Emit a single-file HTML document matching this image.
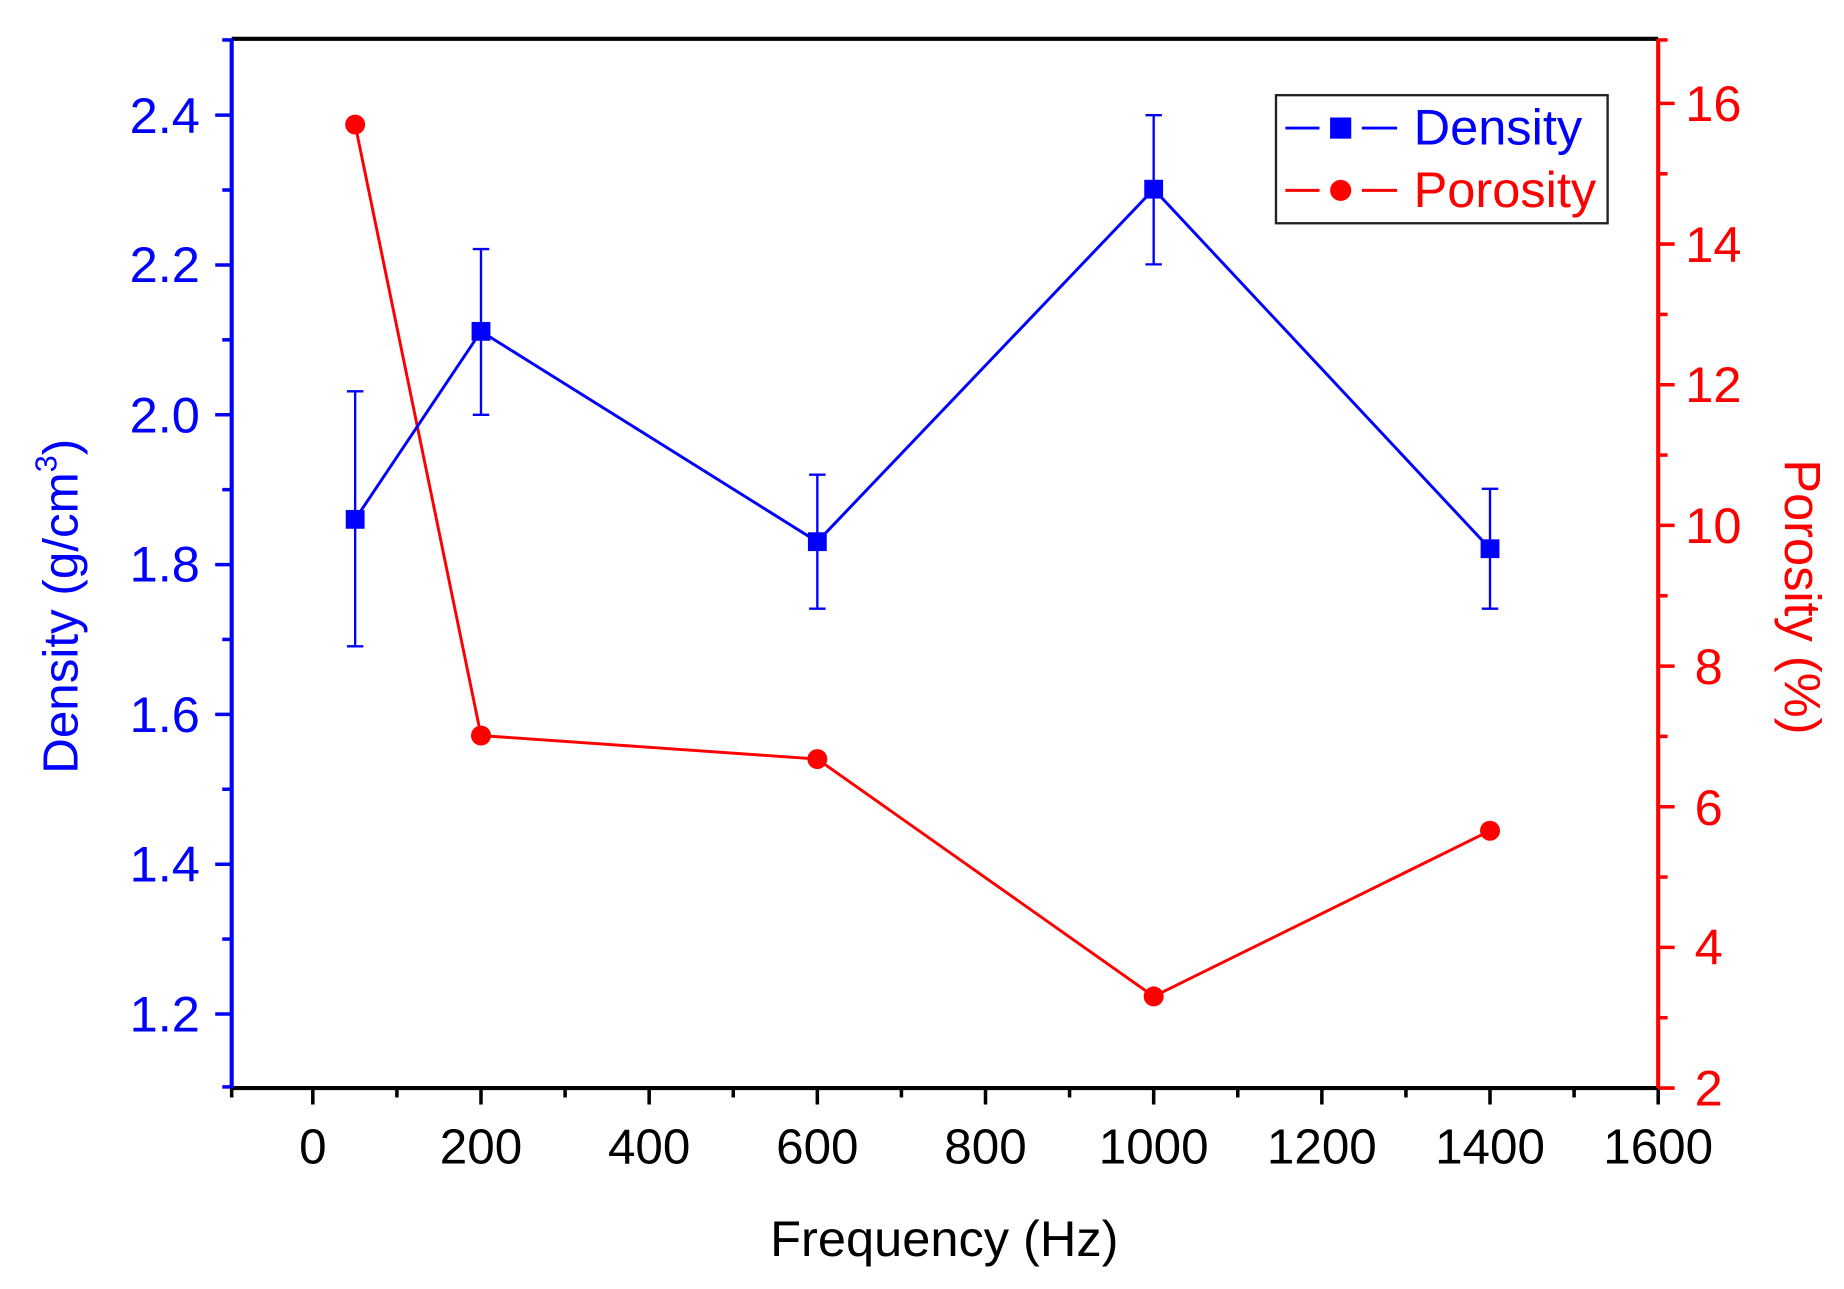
<!DOCTYPE html>
<html><head><meta charset="utf-8"><style>html,body{margin:0;padding:0;background:#fff}svg{display:block}</style></head>
<body>
<svg width="1844" height="1289" viewBox="0 0 1568 1097" preserveAspectRatio="none" xmlns="http://www.w3.org/2000/svg" font-family="Liberation Sans, sans-serif">
<rect width="1568" height="1097" fill="#fff"/>
<!-- frame -->
<line x1="197" y1="33" x2="1410" y2="33" stroke="#000" stroke-width="3.5"/>
<line x1="197" y1="926" x2="1410" y2="926" stroke="#000" stroke-width="3.5"/>
<line x1="197" y1="33" x2="197" y2="926" stroke="#0000ff" stroke-width="3.5"/>
<line x1="1410" y1="33" x2="1410" y2="926" stroke="#ff0000" stroke-width="3.5"/>
<!-- x ticks -->
<g stroke="#000" stroke-width="3">
<line x1="266" y1="926" x2="266" y2="940"/><line x1="409" y1="926" x2="409" y2="940"/><line x1="552" y1="926" x2="552" y2="940"/><line x1="695" y1="926" x2="695" y2="940"/><line x1="838" y1="926" x2="838" y2="940"/><line x1="981" y1="926" x2="981" y2="940"/><line x1="1124" y1="926" x2="1124" y2="940"/><line x1="1267" y1="926" x2="1267" y2="940"/><line x1="1410" y1="926" x2="1410" y2="940"/>
<line x1="197" y1="926" x2="197" y2="934"/><line x1="337.5" y1="926" x2="337.5" y2="934"/><line x1="480.5" y1="926" x2="480.5" y2="934"/><line x1="623.5" y1="926" x2="623.5" y2="934"/><line x1="766.5" y1="926" x2="766.5" y2="934"/><line x1="909.5" y1="926" x2="909.5" y2="934"/><line x1="1052.5" y1="926" x2="1052.5" y2="934"/><line x1="1195.5" y1="926" x2="1195.5" y2="934"/><line x1="1338.5" y1="926" x2="1338.5" y2="934"/>
</g>
<g font-size="42" text-anchor="middle" fill="#000">
<text x="266" y="990">0</text><text x="409" y="990">200</text><text x="552" y="990">400</text><text x="695" y="990">600</text><text x="838" y="990">800</text><text x="981" y="990">1000</text><text x="1124" y="990">1200</text><text x="1267" y="990">1400</text><text x="1410" y="990">1600</text>
</g>
<text x="803" y="1069" font-size="43" text-anchor="middle" fill="#000">Frequency (Hz)</text>
<!-- left ticks -->
<g stroke="#0000ff" stroke-width="3">
<line x1="183" y1="98" x2="197" y2="98"/><line x1="183" y1="225.5" x2="197" y2="225.5"/><line x1="183" y1="353" x2="197" y2="353"/><line x1="183" y1="480.5" x2="197" y2="480.5"/><line x1="183" y1="608" x2="197" y2="608"/><line x1="183" y1="735.5" x2="197" y2="735.5"/><line x1="183" y1="863" x2="197" y2="863"/>
<line x1="189" y1="34" x2="197" y2="34"/><line x1="189" y1="161.7" x2="197" y2="161.7"/><line x1="189" y1="289.2" x2="197" y2="289.2"/><line x1="189" y1="416.7" x2="197" y2="416.7"/><line x1="189" y1="544.2" x2="197" y2="544.2"/><line x1="189" y1="671.7" x2="197" y2="671.7"/><line x1="189" y1="799.2" x2="197" y2="799.2"/><line x1="189" y1="925" x2="197" y2="925"/>
</g>
<g font-size="43" text-anchor="end" fill="#0000ff">
<text x="170" y="113">2.4</text><text x="170" y="240">2.2</text><text x="170" y="368">2.0</text><text x="170" y="495">1.8</text><text x="170" y="623">1.6</text><text x="170" y="750">1.4</text><text x="170" y="878">1.2</text>
</g>
<text transform="translate(66,516) rotate(-90)" font-size="42" text-anchor="middle" fill="#0000ff">Density (g/cm<tspan font-size="26" dy="-18">3</tspan><tspan dy="18">)</tspan></text>
<!-- right ticks -->
<g stroke="#ff0000" stroke-width="3">
<line x1="1410" y1="88" x2="1424" y2="88"/><line x1="1410" y1="207.7" x2="1424" y2="207.7"/><line x1="1410" y1="327.4" x2="1424" y2="327.4"/><line x1="1410" y1="447.1" x2="1424" y2="447.1"/><line x1="1410" y1="566.9" x2="1424" y2="566.9"/><line x1="1410" y1="686.6" x2="1424" y2="686.6"/><line x1="1410" y1="806.3" x2="1424" y2="806.3"/><line x1="1410" y1="926" x2="1424" y2="926"/>
<line x1="1410" y1="147.9" x2="1418" y2="147.9"/><line x1="1410" y1="267.6" x2="1418" y2="267.6"/><line x1="1410" y1="387.3" x2="1418" y2="387.3"/><line x1="1410" y1="507" x2="1418" y2="507"/><line x1="1410" y1="626.7" x2="1418" y2="626.7"/><line x1="1410" y1="746.4" x2="1418" y2="746.4"/><line x1="1410" y1="866.1" x2="1418" y2="866.1"/><line x1="1410" y1="34" x2="1418" y2="34"/>
</g>
<g font-size="43" text-anchor="start" fill="#ff0000">
<text x="1433" y="103">16</text><text x="1433" y="223">14</text><text x="1433" y="342">12</text><text x="1433" y="462">10</text><text x="1441" y="582">8</text><text x="1441" y="702">6</text><text x="1441" y="821">4</text><text x="1441" y="941">2</text>
</g>
<text transform="translate(1518,508) rotate(90)" font-size="43" text-anchor="middle" fill="#ff0000">Porosity (%)</text>
<!-- porosity -->
<polyline points="302,106 409,626 695,646 981,848 1267,707" fill="none" stroke="#ff0000" stroke-width="2.5"/>
<g fill="#ff0000"><circle cx="302" cy="106" r="8.5"/><circle cx="409" cy="626" r="8.5"/><circle cx="695" cy="646" r="8.5"/><circle cx="981" cy="848" r="8.5"/><circle cx="1267" cy="707" r="8.5"/></g>
<!-- density -->
<g stroke="#0000ff" stroke-width="2">
<line x1="302" y1="333" x2="302" y2="550"/><line x1="295" y1="333" x2="309" y2="333"/><line x1="295" y1="550" x2="309" y2="550"/>
<line x1="409" y1="212" x2="409" y2="353"/><line x1="402" y1="212" x2="416" y2="212"/><line x1="402" y1="353" x2="416" y2="353"/>
<line x1="695" y1="404" x2="695" y2="518"/><line x1="688" y1="404" x2="702" y2="404"/><line x1="688" y1="518" x2="702" y2="518"/>
<line x1="981" y1="98" x2="981" y2="225"/><line x1="974" y1="98" x2="988" y2="98"/><line x1="974" y1="225" x2="988" y2="225"/>
<line x1="1267" y1="416" x2="1267" y2="518"/><line x1="1260" y1="416" x2="1274" y2="416"/><line x1="1260" y1="518" x2="1274" y2="518"/>
</g>
<polyline points="302,442 409,282 695,461 981,161 1267,467" fill="none" stroke="#0000ff" stroke-width="2.5"/>
<g fill="#0000ff"><rect x="294" y="434" width="16" height="16"/><rect x="401" y="274" width="16" height="16"/><rect x="687" y="453" width="16" height="16"/><rect x="973" y="153" width="16" height="16"/><rect x="1259" y="459" width="16" height="16"/></g>
<!-- legend -->
<rect x="1085" y="81" width="282" height="109" fill="#fff" stroke="#222" stroke-width="2"/>
<line x1="1093" y1="109" x2="1122" y2="109" stroke="#0000ff" stroke-width="2.5"/>
<line x1="1158" y1="109" x2="1188" y2="109" stroke="#0000ff" stroke-width="2.5"/>
<rect x="1131" y="100" width="18" height="18" fill="#0000ff"/>
<text x="1202" y="123" font-size="43" fill="#0000ff">Density</text>
<line x1="1093" y1="162" x2="1122" y2="162" stroke="#ff0000" stroke-width="2.5"/>
<line x1="1158" y1="162" x2="1188" y2="162" stroke="#ff0000" stroke-width="2.5"/>
<circle cx="1140" cy="162" r="9" fill="#ff0000"/>
<text x="1202" y="176" font-size="43" fill="#ff0000">Porosity</text>
</svg>
</body></html>
